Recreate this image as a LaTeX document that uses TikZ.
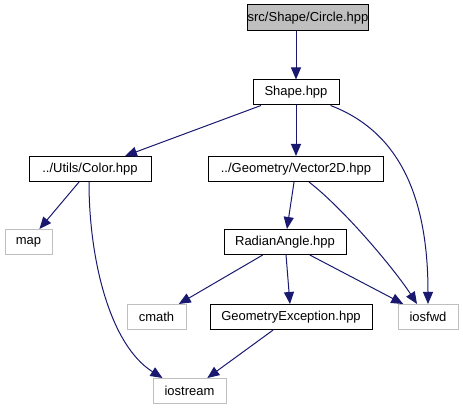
\documentclass[tikz,border=0pt]{standalone}
\usepackage{fontspec}
\setmainfont{Liberation Sans}
\usetikzlibrary{arrows.meta}
\definecolor{edgeblue}{HTML}{191970}
\definecolor{graybox}{HTML}{BFBFBF}
\tikzset{
  filebox/.style={draw=black, line width=1pt, rectangle, minimum height=25pt, inner sep=0pt, font=\fontsize{13}{14}\selectfont, text=black},
  extbox/.style={filebox, draw=graybox},
  rootbox/.style={filebox, fill=graybox},
  dep/.style={draw=edgeblue, line width=1pt, -{Triangle[length=12pt,width=10pt]}, edgeblue}
}
\begin{document}
\begin{tikzpicture}[x=1pt,y=-1pt]
\useasboundingbox (0,0) rectangle (463,411);
\node[rootbox, minimum width=118pt, minimum height=26pt] (circ) at (308,18) {src/Shape/Circle.hpp};
\node[filebox, minimum width=86pt] (shape) at (296,92.5) {Shape.hpp};
\node[filebox, minimum width=122pt] (color) at (90,169) {../Utils/Color.hpp};
\node[filebox, minimum width=175pt] (vec) at (296,169) {../Geometry/Vector2D.hpp};
\node[extbox, minimum width=47pt] (map) at (28.5,242) {map};
\node[filebox, minimum width=122pt] (rad) at (285,242) {RadianAngle.hpp};
\node[extbox, minimum width=59pt] (cmath) at (156.5,317) {cmath};
\node[filebox, minimum width=162pt] (gexc) at (291,317) {GeometryException.hpp};
\node[extbox, minimum width=60pt] (iosfwd) at (428,317) {iosfwd};
\node[extbox, minimum width=73pt] (iostream) at (189.5,391) {iostream};

\draw[dep] (circ.south -| shape.north) -- (shape.north);
\draw[dep] (shape) -- (color);
\draw[dep] (shape) -- (vec);
\draw[dep] ([xshift=-9pt]shape.south east) .. controls (395,130) and (428,190) .. (iosfwd.north);
\draw[dep] ([xshift=-1pt]color.south) .. controls (89,260) and (110,345) .. ([xshift=-27pt]iostream.north);
\draw[dep] (color) -- (map);
\draw[dep] (vec) -- (rad);
\draw[dep] ([xshift=13pt]vec.south) .. controls (345,210) and (395,270) .. ([xshift=-11pt]iosfwd.north);
\draw[dep] (rad) -- (cmath);
\draw[dep] (rad) -- (gexc);
\draw[dep] (rad) -- (iosfwd);
\draw[dep] (gexc) -- (iostream);
\end{tikzpicture}
\end{document}
